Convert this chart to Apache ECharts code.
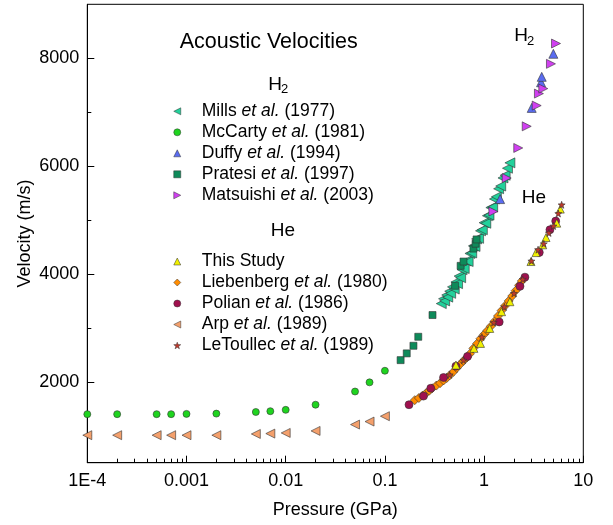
<!DOCTYPE html>
<html>
<head>
<meta charset="utf-8">
<script src="https://cdn.jsdelivr.net/npm/echarts@6/dist/echarts.min.js"></script>
<style>
  html, body { margin: 0; padding: 0; background: #fff; }
  #box1 { width: 613px; height: 525px; }
</style>
</head>
<body>
<div id="box1"></div>
<script>
// H2 data (pressure GPa, velocity m/s)
var millsP = [0.37, 0.39, 0.40, 0.42, 0.43, 0.45, 0.46, 0.48, 0.50, 0.52, 0.54, 0.56, 0.58, 0.60, 0.63, 0.66, 0.69, 0.72, 0.75, 0.78, 0.81, 0.84, 0.88, 0.92, 0.96, 1.00, 1.04, 1.08, 1.12, 1.17, 1.22, 1.27, 1.33, 1.40, 1.47, 1.55, 1.63, 1.72, 1.82];
var millsV = [3450, 3540, 3500, 3610, 3570, 3680, 3640, 3760, 3720, 3850, 3820, 3960, 3930, 4080, 4100, 4240, 4230, 4380, 4390, 4520, 4510, 4650, 4660, 4800, 4820, 4950, 4940, 5080, 5090, 5230, 5240, 5390, 5430, 5580, 5630, 5780, 5830, 5960, 6060];

var mccartyP = [0.0001, 0.0002, 0.0005, 0.0007, 0.001, 0.002, 0.005, 0.007, 0.01, 0.02, 0.05, 0.07, 0.1];
var mccartyV = [1400, 1400, 1400, 1400, 1405, 1410, 1440, 1455, 1480, 1575, 1820, 1990, 2205];

var duffyP = [1.45, 3.02, 3.75, 3.81, 4.99];
var duffyV = [5388, 7079, 7554, 7655, 8082];

var pratesiP = [0.144, 0.166, 0.194, 0.217, 0.302, 0.51, 0.58, 0.62, 0.78, 0.82, 0.84];
var pratesiV = [2402, 2527, 2668, 2835, 3238, 3780, 4150, 4230, 4470, 4560, 4640];

var matsuishiP = [1.24, 1.69, 2.21, 2.69, 3.39, 3.57, 3.95, 4.72, 5.31];
var matsuishiV = [5158, 5778, 6336, 6737, 7122, 7344, 7437, 7896, 8273];

// He data
var studyP = [0.52, 0.79, 0.92, 1.14, 1.50, 1.82, 2.97, 3.34, 3.90, 4.21, 5.40, 5.86];
var studyV = [2310, 2620, 2712, 2990, 3300, 3485, 4230, 4396, 4540, 4675, 4942, 5202];

var liebP = [0.20, 0.22, 0.24, 0.26, 0.28, 0.30, 0.33, 0.36, 0.39, 0.42, 0.45, 0.49, 0.53, 0.57, 0.62, 0.67, 0.72, 0.78, 0.85, 0.92, 1.00, 1.08, 1.17, 1.27, 1.38, 1.50, 1.63, 1.77, 1.92, 2.08, 2.25, 2.40];
var liebV = [1660, 1700, 1745, 1790, 1835, 1880, 1930, 1975, 2025, 2070, 2120, 2185, 2255, 2320, 2390, 2450, 2520, 2620, 2710, 2800, 2880, 2950, 3030, 3120, 3220, 3320, 3410, 3500, 3590, 3690, 3790, 3870];

var polianP = [0.175, 0.245, 0.29, 0.39, 0.52, 0.68, 1.42, 2.30, 2.58, 3.60, 4.61, 5.27];
var polianV = [1575, 1735, 1880, 2080, 2290, 2470, 3110, 3770, 3940, 4400, 4820, 4980];

var arpP = [0.0001, 0.0002, 0.0005, 0.0007, 0.001, 0.002, 0.005, 0.007, 0.01, 0.02, 0.05, 0.07, 0.1];
var arpV = [1010, 1010, 1010, 1010, 1010, 1010, 1033, 1040, 1052, 1089, 1207, 1263, 1362];

var toullecP = [0.45, 0.62, 0.95, 1.25, 1.6, 2.0, 2.45, 3.0, 3.5, 4.0, 4.5, 5.0, 5.6, 6.05];
var toullecV = [2130, 2400, 2830, 3100, 3390, 3640, 3900, 4240, 4450, 4560, 4760, 4890, 5120, 5282];

// axis ticks
var xMajor = [0.0001, 0.001, 0.01, 0.1, 1, 10];
var xLabels = ['1E-4', '0.001', '0.01', '0.1', '1', '10'];
var xMinor = [];
[0.0001, 0.001, 0.01, 0.1, 1].forEach(function (d) {
  for (var k = 2; k <= 9; k++) xMinor.push(+(d * k).toPrecision(3));
});
var yMajor = [2000, 4000, 6000, 8000];
var yMinor = [1000, 3000, 5000, 7000];

var FONT = "'Liberation Sans', Arial, sans-serif";
var LEFT_TRI = 'path://M0,5L10,0L10,10Z';
var RIGHT_TRI = 'path://M10,5L0,0L0,10Z';
var STAR = 'path://M5,0L6.2,3.4L10,3.6L7,5.9L8.1,9.5L5,7.4L1.9,9.5L3,5.9L0,3.6L3.8,3.4Z';

function pairs(p, v) {
  return p.map(function (x, i) { return [x, v[i]]; });
}

function sc(name, p, v, symbol, size, color) {
  return {
    name: name,
    type: 'scatter',
    data: pairs(p, v),
    symbol: symbol,
    symbolSize: size,
    itemStyle: { color: color, borderColor: '#333', borderWidth: 0.6, opacity: 1 },
    emphasis: { disabled: true },
    clip: true
  };
}

var legendText = {
  fontFamily: FONT,
  fontSize: 17.5,
  color: '#000',
  lineHeight: 21,
  rich: {
    g: { width: 16 },
    i: { fontStyle: 'italic', fontFamily: FONT, fontSize: 17.5, color: '#000' }
  }
};
function legendFmt(name) {
  return '{g|}' + name.replace('et al.', '{i|et al.}');
}

var myChart = echarts.init(document.getElementById('box1'));
var option = {
  animation: false,
  backgroundColor: '#fff',
  textStyle: { fontFamily: FONT },
  grid: {
    left: 87.3, right: 29.7, top: 4.3, bottom: 62.3,
    show: true, borderColor: '#000', borderWidth: 1
  },
  legend: [{
    orient: 'vertical', left: 173.5, top: 100.8, padding: 0,
    itemWidth: 7, itemHeight: 7, itemGap: 0, selectedMode: false,
    itemStyle: { borderWidth: 0.5, borderColor: '#333' },
    textStyle: legendText, formatter: legendFmt,
    data: [
      { name: 'Mills et al. (1977)', icon: LEFT_TRI },
      { name: 'McCarty et al. (1981)', icon: 'circle' },
      { name: 'Duffy et al. (1994)', icon: 'triangle' },
      { name: 'Pratesi et al. (1997)', icon: 'rect' },
      { name: 'Matsuishi et al. (2003)', icon: RIGHT_TRI }
    ]
  }, {
    orient: 'vertical', left: 173.5, top: 251, padding: 0,
    itemWidth: 7, itemHeight: 7, itemGap: 0, selectedMode: false,
    itemStyle: { borderWidth: 0.5, borderColor: '#333' },
    textStyle: legendText, formatter: legendFmt,
    data: [
      { name: 'This Study', icon: 'triangle' },
      { name: 'Liebenberg et al. (1980)', icon: 'diamond' },
      { name: 'Polian et al. (1986)', icon: 'circle' },
      { name: 'Arp et al. (1989)', icon: LEFT_TRI },
      { name: 'LeToullec et al. (1989)', icon: STAR }
    ]
  }],
  xAxis: [{
    type: 'log', logBase: 10, min: 0.0001, max: 10, position: 'bottom',
    name: 'Pressure (GPa)', nameLocation: 'middle', nameGap: 38, nameMoveOverlap: false,
    nameTextStyle: { fontFamily: FONT, fontSize: 18, color: '#000' },
    axisLine: { show: true, onZero: false, lineStyle: { color: '#000', width: 1 } },
    axisTick: { show: true, inside: true, length: 7, customValues: xMajor, lineStyle: { color: '#000' } },
    axisLabel: {
      show: true, margin: 9, fontFamily: FONT, fontSize: 18, color: '#000',
      customValues: xMajor,
      formatter: function (v) {
        var i = xMajor.findIndex(function (m) { return Math.abs(Math.log10(m) - Math.log10(v)) < 1e-6; });
        return i >= 0 ? xLabels[i] : '';
      }
    },
    splitLine: { show: false }
  }, {
    type: 'log', logBase: 10, min: 0.0001, max: 10, position: 'bottom',
    axisLine: { show: false },
    axisTick: { show: true, inside: true, length: 4, customValues: xMinor, lineStyle: { color: '#000' } },
    axisLabel: { show: false },
    splitLine: { show: false }
  }],
  yAxis: [{
    type: 'value', min: 500, max: 9000, position: 'left',
    name: 'Velocity (m/s)', nameLocation: 'middle', nameGap: 53, nameMoveOverlap: false,
    nameTextStyle: { fontFamily: FONT, fontSize: 18, color: '#000' },
    axisLine: { show: true, onZero: false, lineStyle: { color: '#000', width: 1 } },
    axisTick: { show: true, inside: true, length: 7, customValues: yMajor, lineStyle: { color: '#000' } },
    axisLabel: {
      show: true, margin: 8, fontFamily: FONT, fontSize: 18, color: '#000', customValues: yMajor,
      formatter: function (v) { return String(v); }
    },
    splitLine: { show: false }
  }, {
    type: 'value', min: 500, max: 9000, position: 'left',
    axisLine: { show: false },
    axisTick: { show: true, inside: true, length: 4, customValues: yMinor, lineStyle: { color: '#000' } },
    axisLabel: { show: false },
    splitLine: { show: false }
  }],
  graphic: [
    { type: 'text', left: 267.7 - 88, top: 31, style: { text: 'Acoustic Velocities', font: '21.5px ' + FONT, fill: '#000' } },
    { type: 'text', x: 268.3, y: 84.5, style: { text: 'H', font: '19px ' + FONT, fill: '#000', verticalAlign: 'middle' } },
    { type: 'text', x: 281, y: 89.5, style: { text: '2', font: '13px ' + FONT, fill: '#000', verticalAlign: 'middle' } },
    { type: 'text', x: 270.7, y: 230.7, style: { text: 'He', font: '19px ' + FONT, fill: '#000', verticalAlign: 'middle' } },
    { type: 'text', x: 514.3, y: 36, style: { text: 'H', font: '19px ' + FONT, fill: '#000', verticalAlign: 'middle' } },
    { type: 'text', x: 527, y: 41.7, style: { text: '2', font: '13px ' + FONT, fill: '#000', verticalAlign: 'middle' } },
    { type: 'text', x: 521.7, y: 197.3, style: { text: 'He', font: '19px ' + FONT, fill: '#000', verticalAlign: 'middle' } }
  ],
  series: [
    sc('McCarty et al. (1981)', mccartyP, mccartyV, 'circle', 7, '#1fd41f'),
    sc('Arp et al. (1989)', arpP, arpV, LEFT_TRI, 9, '#f4a06c'),
    sc('Mills et al. (1977)', millsP, millsV, LEFT_TRI, 10, '#22d19b'),
    sc('Pratesi et al. (1997)', pratesiP, pratesiV, 'rect', 7, '#0e8a5a'),
    sc('Duffy et al. (1994)', duffyP, duffyV, 'triangle', 9, '#5a6cf0'),
    sc('Matsuishi et al. (2003)', matsuishiP, matsuishiV, RIGHT_TRI, 9, '#d040f0'),
    sc('Liebenberg et al. (1980)', liebP, liebV, 'diamond', 9, '#ff8c00'),
    sc('Polian et al. (1986)', polianP, polianV, 'circle', 8, '#a0104e'),
    sc('This Study', studyP, studyV, 'triangle', 8, '#f0f000'),
    sc('LeToullec et al. (1989)', toullecP, toullecV, STAR, 7, '#c0392b')
  ]
};
myChart.setOption(option);
</script>
</body>
</html>
